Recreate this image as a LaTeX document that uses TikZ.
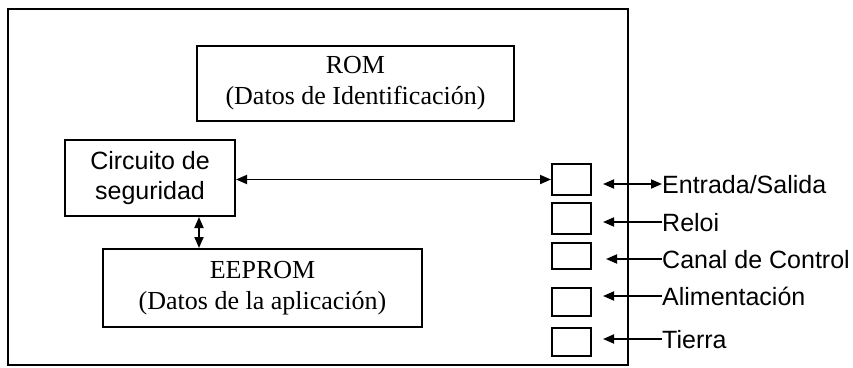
\documentclass[tikz,border=0pt]{standalone}
\usepackage{fontspec}
\setmainfont{Liberation Serif}
\newfontfamily\arialf{Liberation Sans}
\usetikzlibrary{arrows.meta}
\begin{document}
\begin{tikzpicture}[x=1pt,y=-1pt,
  box/.style={draw, line width=2pt, inner sep=0pt, align=center},
  serifbox/.style={box, font=\fontsize{26}{31}\selectfont},
  sansbox/.style={box, font=\arialf\fontsize{25}{30}\selectfont},
  pin/.style={draw, line width=2pt, inner sep=0pt, minimum width=39pt},
  lbl/.style={anchor=west, inner sep=0pt, font=\arialf\fontsize{25}{30}\selectfont, text height=18pt, text depth=0pt},
  arr/.style={line width=1.8pt, -{Triangle[length=11pt,width=9pt]}},
  darr/.style={line width=1.8pt, {Triangle[length=11pt,width=9pt]}-{Triangle[length=11pt,width=9pt]}}
]
\useasboundingbox (0,0) rectangle (853,367);
\fill[white] (0,0) rectangle (853,367);

\node[draw, line width=2.2pt, inner sep=0pt, minimum width=620pt, minimum height=356pt] (outer) at (318,187) {};

\node[serifbox, minimum width=317pt, minimum height=75pt] (rom) at (355.5,83.5) {ROM\\(Datos de Identificación)};
\node[sansbox, minimum width=170pt, minimum height=76pt] (circ) at (150,178) {Circuito de\\seguridad};
\node[serifbox, minimum width=319pt, minimum height=78pt] (eep) at (262.5,288) {EEPROM\\(Datos de la aplicación)};

\node[pin, minimum height=31pt] (p1) at (571.5,179.5) {};
\node[pin, minimum height=31pt] (p2) at (571.5,218.5) {};
\node[pin, minimum height=26pt] (p3) at (571.5,256) {};
\node[pin, minimum height=28pt] (p4) at (571.5,302) {};
\node[pin, minimum height=28pt] (p5) at (571.5,342) {};

\node[lbl] (l1) at (662,184) {Entrada/Salida};
\node[lbl] (l2) at (662,222) {Reloi};
\node[lbl] (l3) at (662,259) {Canal de Control};
\node[lbl] (l4) at (662,296) {Alimentación};
\node[lbl] (l5) at (662,339) {Tierra};

\coordinate (t1) at (603,184);
\coordinate (t2) at (603,222);
\coordinate (t3) at (606,259);
\coordinate (t4) at (603,296);
\coordinate (t5) at (603,339);

\draw[darr] (t1) -- (l1.west);
\draw[arr] (l2.west) -- (t2);
\draw[arr] (l3.west) -- (t3);
\draw[arr] (l4.west) -- (t4);
\draw[arr] (l5.west) -- (t5);

\draw[darr] (circ.east |- p1.west) -- (p1.west);
\coordinate (cv) at (199,0);
\draw[darr] (circ.south -| cv) -- (eep.north -| cv);
\end{tikzpicture}
\end{document}
